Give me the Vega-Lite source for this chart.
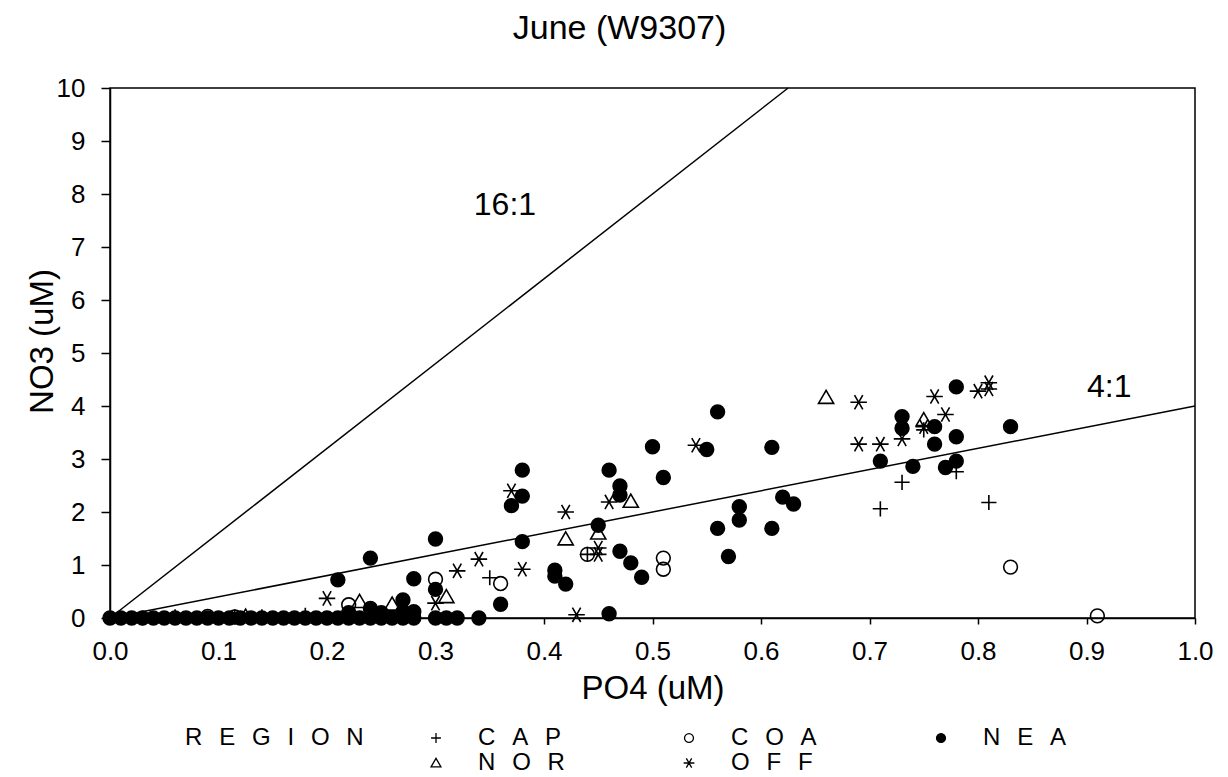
{
  "$schema": "https://vega.github.io/schema/vega-lite/v6.json",
  "autosize": {"type": "none"},
  "padding": {"left": 110, "top": 88, "right": 33, "bottom": 159},
  "width": 1085,
  "height": 530,
  "background": "white",
  "title": {"text": "June (W9307)", "fontSize": 34, "font": "Liberation Sans", "fontWeight": "normal", "color": "black", "anchor": "middle", "frame": "group", "dx": -33, "offset": 2, "baseline": "alphabetic"},
  "config": {
    "font": "Liberation Sans",
    "view": {"stroke": "black", "strokeWidth": 1.5},
    "axis": {"grid": false, "domainColor": "black", "domainWidth": 1.5, "tickColor": "black", "tickWidth": 1.5, "labelColor": "black", "titleColor": "black", "labelFont": "Liberation Sans", "titleFont": "Liberation Sans", "titleFontWeight": "normal", "labelFontSize": 26, "titleFontSize": 33},
    "legend": {"orient": "none", "legendX": 75, "legendY": 638, "direction": "horizontal", "columns": 3, "titleOrient": "left", "titleAnchor": "start", "titleBaseline": "top", "titleFont": "Liberation Sans", "labelFont": "Liberation Sans", "titleFontSize": 24, "titleFontWeight": "normal", "titleColor": "black", "labelFontSize": 24, "labelColor": "black", "symbolSize": 80, "symbolStrokeWidth": 1.3, "labelOffset": 30, "columnPadding": 112, "rowPadding": 1, "titlePadding": 60, "padding": 0}
  },
  "datasets": {
    "ratios": [
      {"ratio": "16:1", "PO4": 0, "NO3": 0},
      {"ratio": "16:1", "PO4": 0.625, "NO3": 10},
      {"ratio": "4:1", "PO4": 0, "NO3": 0},
      {"ratio": "4:1", "PO4": 1.0, "NO3": 4}
    ],
    "ratioLabels": [
      {"label": "16:1", "PO4": 0.364, "NO3": 7.79},
      {"label": "4:1", "PO4": 0.921, "NO3": 4.36}
    ],
    "samples": [
      {"PO4": 0.00, "NO3": 0, "region": "NEA"}, {"PO4": 0.01, "NO3": 0, "region": "NEA"}, {"PO4": 0.02, "NO3": 0, "region": "NEA"},
      {"PO4": 0.03, "NO3": 0, "region": "NEA"}, {"PO4": 0.04, "NO3": 0, "region": "NEA"}, {"PO4": 0.05, "NO3": 0, "region": "NEA"},
      {"PO4": 0.06, "NO3": 0, "region": "NEA"}, {"PO4": 0.07, "NO3": 0, "region": "NEA"}, {"PO4": 0.08, "NO3": 0, "region": "NEA"},
      {"PO4": 0.09, "NO3": 0, "region": "NEA"}, {"PO4": 0.10, "NO3": 0, "region": "NEA"}, {"PO4": 0.11, "NO3": 0, "region": "NEA"},
      {"PO4": 0.12, "NO3": 0, "region": "NEA"}, {"PO4": 0.13, "NO3": 0, "region": "NEA"}, {"PO4": 0.14, "NO3": 0, "region": "NEA"},
      {"PO4": 0.15, "NO3": 0, "region": "NEA"}, {"PO4": 0.16, "NO3": 0, "region": "NEA"}, {"PO4": 0.17, "NO3": 0, "region": "NEA"},
      {"PO4": 0.18, "NO3": 0, "region": "NEA"}, {"PO4": 0.19, "NO3": 0, "region": "NEA"}, {"PO4": 0.20, "NO3": 0, "region": "NEA"},
      {"PO4": 0.21, "NO3": 0, "region": "NEA"}, {"PO4": 0.22, "NO3": 0, "region": "NEA"}, {"PO4": 0.23, "NO3": 0, "region": "NEA"},
      {"PO4": 0.24, "NO3": 0, "region": "NEA"}, {"PO4": 0.25, "NO3": 0, "region": "NEA"}, {"PO4": 0.26, "NO3": 0, "region": "NEA"},
      {"PO4": 0.27, "NO3": 0, "region": "NEA"}, {"PO4": 0.28, "NO3": 0, "region": "NEA"},
      {"PO4": 0.30, "NO3": 0, "region": "NEA"}, {"PO4": 0.31, "NO3": 0, "region": "NEA"}, {"PO4": 0.32, "NO3": 0, "region": "NEA"}, {"PO4": 0.34, "NO3": 0, "region": "NEA"},
      {"PO4": 0.21, "NO3": 0.72, "region": "NEA"}, {"PO4": 0.24, "NO3": 1.13, "region": "NEA"}, {"PO4": 0.30, "NO3": 1.49, "region": "NEA"},
      {"PO4": 0.28, "NO3": 0.74, "region": "NEA"}, {"PO4": 0.27, "NO3": 0.34, "region": "NEA"}, {"PO4": 0.30, "NO3": 0.54, "region": "NEA"},
      {"PO4": 0.36, "NO3": 0.26, "region": "NEA"}, {"PO4": 0.24, "NO3": 0.18, "region": "NEA"}, {"PO4": 0.25, "NO3": 0.10, "region": "NEA"},
      {"PO4": 0.27, "NO3": 0.12, "region": "NEA"}, {"PO4": 0.28, "NO3": 0.12, "region": "NEA"}, {"PO4": 0.22, "NO3": 0.10, "region": "NEA"},
      {"PO4": 0.38, "NO3": 2.79, "region": "NEA"}, {"PO4": 0.38, "NO3": 2.30, "region": "NEA"}, {"PO4": 0.37, "NO3": 2.12, "region": "NEA"},
      {"PO4": 0.38, "NO3": 1.44, "region": "NEA"}, {"PO4": 0.45, "NO3": 1.75, "region": "NEA"}, {"PO4": 0.41, "NO3": 0.90, "region": "NEA"},
      {"PO4": 0.41, "NO3": 0.79, "region": "NEA"}, {"PO4": 0.42, "NO3": 0.64, "region": "NEA"}, {"PO4": 0.46, "NO3": 0.08, "region": "NEA"},
      {"PO4": 0.46, "NO3": 2.79, "region": "NEA"}, {"PO4": 0.56, "NO3": 3.89, "region": "NEA"}, {"PO4": 0.50, "NO3": 3.23, "region": "NEA"},
      {"PO4": 0.55, "NO3": 3.18, "region": "NEA"}, {"PO4": 0.51, "NO3": 2.65, "region": "NEA"}, {"PO4": 0.47, "NO3": 2.49, "region": "NEA"},
      {"PO4": 0.47, "NO3": 2.32, "region": "NEA"}, {"PO4": 0.47, "NO3": 1.26, "region": "NEA"}, {"PO4": 0.48, "NO3": 1.04, "region": "NEA"},
      {"PO4": 0.49, "NO3": 0.77, "region": "NEA"}, {"PO4": 0.56, "NO3": 1.69, "region": "NEA"}, {"PO4": 0.57, "NO3": 1.16, "region": "NEA"},
      {"PO4": 0.58, "NO3": 2.10, "region": "NEA"}, {"PO4": 0.58, "NO3": 1.85, "region": "NEA"}, {"PO4": 0.61, "NO3": 3.22, "region": "NEA"},
      {"PO4": 0.71, "NO3": 2.96, "region": "NEA"}, {"PO4": 0.62, "NO3": 2.28, "region": "NEA"}, {"PO4": 0.63, "NO3": 2.15, "region": "NEA"},
      {"PO4": 0.61, "NO3": 1.69, "region": "NEA"}, {"PO4": 0.73, "NO3": 3.80, "region": "NEA"}, {"PO4": 0.73, "NO3": 3.58, "region": "NEA"},
      {"PO4": 0.74, "NO3": 2.86, "region": "NEA"}, {"PO4": 0.76, "NO3": 3.61, "region": "NEA"}, {"PO4": 0.76, "NO3": 3.28, "region": "NEA"},
      {"PO4": 0.77, "NO3": 2.84, "region": "NEA"}, {"PO4": 0.78, "NO3": 4.36, "region": "NEA"}, {"PO4": 0.78, "NO3": 3.42, "region": "NEA"},
      {"PO4": 0.78, "NO3": 2.96, "region": "NEA"}, {"PO4": 0.83, "NO3": 3.61, "region": "NEA"},
      {"PO4": 0.22, "NO3": 0.25, "region": "COA"}, {"PO4": 0.30, "NO3": 0.73, "region": "COA"}, {"PO4": 0.36, "NO3": 0.65, "region": "COA"},
      {"PO4": 0.44, "NO3": 1.20, "region": "COA"}, {"PO4": 0.51, "NO3": 1.13, "region": "COA"}, {"PO4": 0.51, "NO3": 0.92, "region": "COA"},
      {"PO4": 0.83, "NO3": 0.96, "region": "COA"}, {"PO4": 0.91, "NO3": 0.04, "region": "COA"}, {"PO4": 0.09, "NO3": 0.03, "region": "COA"},
      {"PO4": 0.115, "NO3": 0.02, "region": "COA"}, {"PO4": 0.25, "NO3": 0.03, "region": "COA"},
      {"PO4": 0.35, "NO3": 0.76, "region": "CAP"}, {"PO4": 0.44, "NO3": 1.20, "region": "CAP"}, {"PO4": 0.71, "NO3": 2.06, "region": "CAP"},
      {"PO4": 0.73, "NO3": 2.56, "region": "CAP"}, {"PO4": 0.78, "NO3": 2.76, "region": "CAP"}, {"PO4": 0.81, "NO3": 2.18, "region": "CAP"},
      {"PO4": 0.75, "NO3": 3.55, "region": "CAP"}, {"PO4": 0.03, "NO3": 0.0, "region": "CAP"}, {"PO4": 0.06, "NO3": 0.02, "region": "CAP"},
      {"PO4": 0.115, "NO3": 0.02, "region": "CAP"}, {"PO4": 0.14, "NO3": 0.02, "region": "CAP"}, {"PO4": 0.18, "NO3": 0.05, "region": "CAP"},
      {"PO4": 0.25, "NO3": 0.02, "region": "CAP"},
      {"PO4": 0.23, "NO3": 0.31, "region": "NOR"}, {"PO4": 0.26, "NO3": 0.26, "region": "NOR"}, {"PO4": 0.31, "NO3": 0.40, "region": "NOR"},
      {"PO4": 0.42, "NO3": 1.49, "region": "NOR"}, {"PO4": 0.45, "NO3": 1.60, "region": "NOR"}, {"PO4": 0.48, "NO3": 2.20, "region": "NOR"},
      {"PO4": 0.66, "NO3": 4.16, "region": "NOR"}, {"PO4": 0.75, "NO3": 3.74, "region": "NOR"}, {"PO4": 0.125, "NO3": 0.03, "region": "NOR"},
      {"PO4": 0.20, "NO3": 0.37, "region": "OFF"}, {"PO4": 0.30, "NO3": 0.28, "region": "OFF"}, {"PO4": 0.32, "NO3": 0.89, "region": "OFF"},
      {"PO4": 0.34, "NO3": 1.11, "region": "OFF"}, {"PO4": 0.37, "NO3": 2.40, "region": "OFF"}, {"PO4": 0.42, "NO3": 2.00, "region": "OFF"},
      {"PO4": 0.38, "NO3": 0.92, "region": "OFF"}, {"PO4": 0.43, "NO3": 0.06, "region": "OFF"}, {"PO4": 0.46, "NO3": 2.19, "region": "OFF"},
      {"PO4": 0.45, "NO3": 1.32, "region": "OFF"}, {"PO4": 0.45, "NO3": 1.20, "region": "OFF"}, {"PO4": 0.54, "NO3": 3.26, "region": "OFF"},
      {"PO4": 0.69, "NO3": 4.07, "region": "OFF"}, {"PO4": 0.69, "NO3": 3.28, "region": "OFF"}, {"PO4": 0.71, "NO3": 3.28, "region": "OFF"},
      {"PO4": 0.73, "NO3": 3.38, "region": "OFF"}, {"PO4": 0.75, "NO3": 3.61, "region": "OFF"}, {"PO4": 0.76, "NO3": 4.18, "region": "OFF"},
      {"PO4": 0.77, "NO3": 3.84, "region": "OFF"}, {"PO4": 0.80, "NO3": 4.28, "region": "OFF"}, {"PO4": 0.81, "NO3": 4.44, "region": "OFF"},
      {"PO4": 0.81, "NO3": 4.32, "region": "OFF"}
    ]
  },
  "encoding": {
    "x": {"field": "PO4", "type": "quantitative", "scale": {"domain": [0, 1], "nice": false, "zero": false},
      "axis": {"title": "PO4 (uM)", "values": [0, 0.1, 0.2, 0.3, 0.4, 0.5, 0.6, 0.7, 0.8, 0.9, 1.0], "format": ".1f", "tickSize": 6, "labelPadding": 14, "labelFlush": false, "labelOverlap": false, "titleY": 70, "titleBaseline": "middle"}},
    "y": {"field": "NO3", "type": "quantitative", "scale": {"domain": [0, 10], "nice": false},
      "axis": {"title": "NO3 (uM)", "values": [0, 1, 2, 3, 4, 5, 6, 7, 8, 9, 10], "format": "d", "tickSize": 9, "labelPadding": 16, "labelFlush": false, "titleX": -68, "titleY": 253, "titleAngle": -90, "titleAlign": "center", "titleBaseline": "middle"}}
  },
  "layer": [
    {
      "data": {"name": "ratios"},
      "mark": {"type": "line", "color": "black", "strokeWidth": 1.5},
      "encoding": {"detail": {"field": "ratio"}}
    },
    {
      "data": {"name": "samples"},
      "mark": {"type": "point", "filled": true, "strokeWidth": 1.6, "size": 190, "opacity": 1},
      "encoding": {
        "shape": {"field": "region", "type": "nominal",
          "scale": {"domain": ["CAP", "COA", "NEA", "NOR", "OFF"], "range": ["M-1.1,0L1.1,0M0,-1.1L0,1.1", "circle", "circle", "M0,-1.05L1.1,0.85L-1.1,0.85Z", "M-1.2,0L1.2,0M-0.6,-1.04L0.6,1.04M-0.6,1.04L0.6,-1.04"]},
          "legend": {"title": "R\u2002\u2009E\u2002\u2009G\u2002\u2009I\u2002\u2009O\u2002\u2009N", "labelExpr": "datum.label == 'CAP' ? 'C\u2002\u2009A\u2002\u2009P' : datum.label == 'COA' ? 'C\u2002\u2009O\u2002\u2009A' : datum.label == 'NEA' ? 'N\u2002\u2009E\u2002\u2009A' : datum.label == 'NOR' ? 'N\u2002\u2009O\u2002\u2009R' : 'O\u2002\u2009F\u2002\u2009F'"}},
        "fill": {"field": "region", "type": "nominal",
          "scale": {"domain": ["CAP", "COA", "NEA", "NOR", "OFF"], "range": ["transparent", "transparent", "black", "transparent", "transparent"]},
          "legend": {"title": "R\u2002\u2009E\u2002\u2009G\u2002\u2009I\u2002\u2009O\u2002\u2009N", "labelExpr": "datum.label == 'CAP' ? 'C\u2002\u2009A\u2002\u2009P' : datum.label == 'COA' ? 'C\u2002\u2009O\u2002\u2009A' : datum.label == 'NEA' ? 'N\u2002\u2009E\u2002\u2009A' : datum.label == 'NOR' ? 'N\u2002\u2009O\u2002\u2009R' : 'O\u2002\u2009F\u2002\u2009F'"}},
        "stroke": {"field": "region", "type": "nominal",
          "scale": {"domain": ["CAP", "COA", "NEA", "NOR", "OFF"], "range": ["black", "black", "black", "black", "black"]},
          "legend": {"title": "R\u2002\u2009E\u2002\u2009G\u2002\u2009I\u2002\u2009O\u2002\u2009N", "labelExpr": "datum.label == 'CAP' ? 'C\u2002\u2009A\u2002\u2009P' : datum.label == 'COA' ? 'C\u2002\u2009O\u2002\u2009A' : datum.label == 'NEA' ? 'N\u2002\u2009E\u2002\u2009A' : datum.label == 'NOR' ? 'N\u2002\u2009O\u2002\u2009R' : 'O\u2002\u2009F\u2002\u2009F'"}}
      }
    },
    {
      "data": {"name": "ratioLabels"},
      "mark": {"type": "text", "fontSize": 32, "font": "Liberation Sans", "color": "black", "align": "center", "baseline": "middle"},
      "encoding": {"text": {"field": "label"}}
    }
  ]
}
